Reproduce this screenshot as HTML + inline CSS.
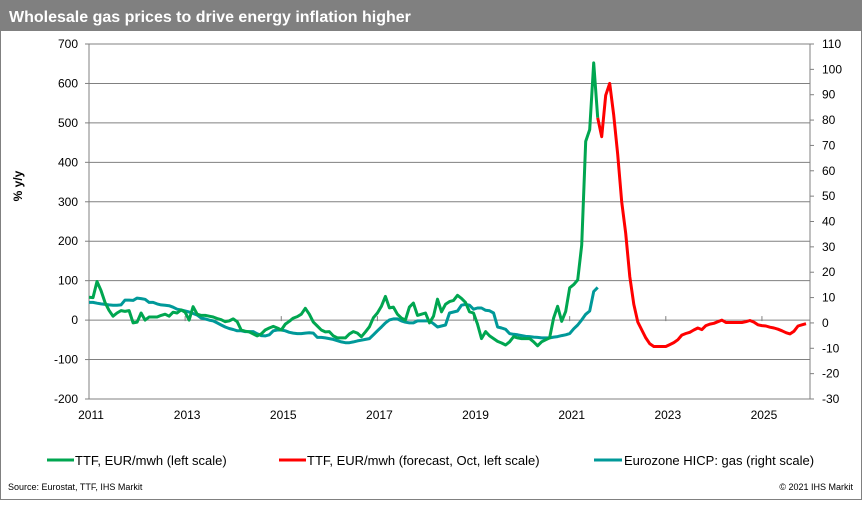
<!DOCTYPE html>
<html><head><meta charset="utf-8">
<style>
html,body{margin:0;padding:0;background:#fff;}
body{width:862px;height:500px;overflow:hidden;font-family:"Liberation Sans",Arial,sans-serif;}
svg text{font-family:"Liberation Sans",Arial,sans-serif;}
</style></head>
<body>
<svg id="chart" width="862" height="500" xmlns="http://www.w3.org/2000/svg">
  <rect x="0.5" y="0.5" width="861" height="499" fill="#fff" stroke="#808080"/>
  <rect x="0" y="0" width="862" height="31" fill="#808080"/>
  <text x="9" y="22" fill="#fff" font-size="16" font-weight="bold">Wholesale gas prices to drive energy inflation higher</text>
  <g id="grid"></g>
  <g id="axes"></g>
  <g id="series"></g>
  <text transform="translate(22,186) rotate(-90)" text-anchor="middle" font-size="12" font-weight="bold" fill="#000">% y/y</text>
  <g>
    <g>
      <line x1="47" y1="460" x2="74" y2="460" stroke="#00a650" stroke-width="3"/>
      <text x="75" y="465" font-size="13">TTF, EUR/mwh (left scale)</text>
    </g>
    <g>
      <line x1="279" y1="460" x2="306" y2="460" stroke="#ff0000" stroke-width="3"/>
      <text x="307" y="465" font-size="13">TTF, EUR/mwh (forecast, Oct, left scale)</text>
    </g>
    <g>
      <line x1="594" y1="460" x2="622" y2="460" stroke="#009999" stroke-width="3"/>
      <text x="624" y="465" font-size="13">Eurozone HICP: gas (right scale)</text>
    </g>
  </g>
  <text x="8" y="490" font-size="9">Source: Eurostat, TTF, IHS Markit</text>
  <text x="853" y="490" font-size="9" text-anchor="end">© 2021  IHS Markit</text>
</svg>
<script>
const leftTicks = [700,600,500,400,300,200,100,0,-100,-200];
const rightTicks = [110,100,90,80,70,60,50,40,30,20,10,0,-10,-20,-30];
const yearLabels = ["2011","2013","2015","2017","2019","2021","2023","2025"];
const yearValues = [2011,2013,2015,2017,2019,2021,2023,2025];
const startYear = 2011;
// TTF monthly from Jan 2011 (left scale)
const ttfActual = [58,57,98,75,45,25,10,18,24,22,24,-7,
 -5,18,0,8,8,8,12,15,10,20,18,26,
 20,0,34,15,12,12,10,8,4,1,-4,-2,
 3,-4,-25,-28,-30,-35,-40,-35,-25,-20,-16,-20,
 -25,-10,-3,5,9,15,30,15,-5,-15,-25,-30,
 -29,-40,-45,-45,-45,-35,-29,-33,-42,-30,-17,6,
 18,35,60,31,33,15,5,0,33,43,12,15,
 18,-7,10,53,21,40,47,50,63,55,45,21,
 18,-10,-47,-29,-40,-47,-54,-58,-63,-55,-42,-45,
 -47,-47,-47,-55,-65,-55,-50,-45,5,35,-3,22,
 82,90,102,190,453,483,652,513];
// TTF forecast starting Aug 2021 (month index 127)
const ttfForecastStart = 127;
const ttfForecast = [513,465,570,600,520,420,300,220,110,40,-5,-25,-45,-60,-67,-67,-67,-67,-62,-57,-50,-38,-34,-31,-25,-20,-24,-14,-10,-8,-4,0,-6,-6,-6,-6,-6,-4,-1,-5,-12,-14,-15,-18,-20,-23,-27,-32,-35,-28,-15,-12,-9];
// Eurozone HICP gas monthly from Jan 2011 (right scale)
const hicp = [8.1,8.1,7.8,7.5,7.3,7.1,7.0,7.0,7.1,9.0,9.0,8.9,
 9.8,9.6,9.3,8.1,8.1,7.5,7.1,7.0,6.8,6.2,5.4,5.1,
 4.7,4.3,3.7,3.1,1.9,1.6,1.1,0.8,0,-0.8,-1.6,-2.2,
 -2.6,-3.1,-3.1,-3.4,-3.4,-3.4,-4.3,-5.0,-5.1,-4.7,-3.1,-2.8,
 -2.8,-3.1,-3.7,-4.0,-4.2,-4.2,-4.0,-3.9,-4.0,-5.7,-5.7,-5.9,
 -6.2,-6.5,-7.0,-7.5,-7.8,-7.8,-7.5,-7.1,-6.8,-6.5,-6.2,-4.7,
 -3.1,-1.6,0,1.2,1.6,1.6,0.8,0.3,0,0,0.8,0.8,
 0.8,0.8,-0.3,-1.6,-1.2,-0.8,3.9,4.3,4.7,7.0,7.3,7.0,
 5.4,5.9,5.9,5.0,4.8,3.9,-1.6,-2.0,-2.5,-4.2,-4.5,-4.7,
 -5.0,-5.3,-5.4,-5.6,-5.7,-5.9,-5.9,-5.9,-5.6,-5.4,-5.0,-4.7,
 -4.2,-2.3,-0.8,1.2,3.4,4.7,12.4,14.0];

const NS="http://www.w3.org/2000/svg";
const X0=89, X1=810, Y0=44, Y1=399;
const xOfYear = y => X0 + (y-startYear)*(X1-X0)/15;
const xOfMonth = m => X0 + m*(X1-X0)/180;
const yL = v => Y1 - (v+200)*(Y1-Y0)/900;
const yR = v => Y1 - (v+30)*(Y1-Y0)/140;
function el(tag, attrs, parent){const e=document.createElementNS(NS,tag);for(const k in attrs)e.setAttribute(k,attrs[k]);parent.appendChild(e);return e;}
const grid=document.getElementById('grid'), axes=document.getElementById('axes'), series=document.getElementById('series');

leftTicks.forEach(v=>{
  const y=yL(v);
  if(v!==-200){const g=el('line',{x1:X0,x2:X1,y1:y,y2:y,stroke:'#808080','stroke-width':1},grid);
  
  }
  el('line',{x1:X0-4,x2:X0,y1:y,y2:y,stroke:'#808080'},axes);
  const t=el('text',{x:X0-11,y:y+4,'text-anchor':'end','font-size':12},axes);
  t.textContent=v;
  
  
});
rightTicks.forEach(v=>{
  const y=yR(v);
  el('line',{x1:X1,x2:X1+4,y1:y,y2:y,stroke:'#808080'},axes);
  const t=el('text',{x:X1+12,y:y+4,'font-size':12},axes);
  t.textContent=v;
  
  
});
el('line',{x1:X0,x2:X0,y1:Y0,y2:Y1,stroke:'#808080'},axes);
el('line',{x1:X1,x2:X1,y1:Y0,y2:Y1,stroke:'#808080'},axes);
el('line',{x1:X0,x2:X1,y1:Y1,y2:Y1,stroke:'#808080'},axes);
yearValues.forEach((yr,i)=>{
  const x=xOfYear(yr);
  el('line',{x1:x,x2:x,y1:yL(0)-4,y2:yL(0)+1,stroke:'#808080'},axes);
  const t=el('text',{x:x+2,y:419,'text-anchor':'middle','font-size':12},axes);
  t.textContent=yearLabels[i];
  
  
});
function line(vals, start, yf, color, name){
  const pts=vals.map((v,i)=>xOfMonth(start+i).toFixed(1)+','+yf(v).toFixed(1)).join(' ');
  const p=el('polyline',{points:pts,fill:'none',stroke:color,'stroke-width':3,'stroke-linejoin':'round'},series);
  
  
}
line(hicp,0,yR,'#009999','hicp-gas-line');
line(ttfActual,0,yL,'#00a650','ttf-line');
line(ttfForecast,ttfForecastStart,yL,'#ff0000','ttf-forecast-line');
</script>
</body></html>
